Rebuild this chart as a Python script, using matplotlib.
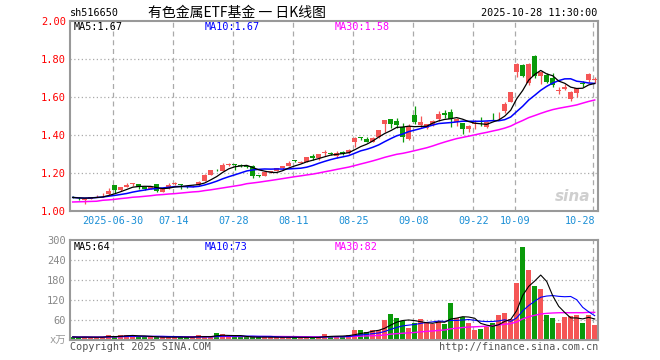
import numpy as np
import pandas as pd
import matplotlib
matplotlib.use("Agg")
import matplotlib.pyplot as plt
from matplotlib.transforms import blended_transform_factory

# ---------------- data ----------------
opens = [1.075,1.070,1.060,1.067,1.079,1.084,1.091,1.139,1.112,1.128,
         1.144,1.144,1.126,1.120,1.144,1.104,1.121,1.145,1.142,1.132,
         1.130,1.137,1.160,1.191,1.220,1.212,1.245,1.248,1.243,1.240,
         1.239,1.190,1.186,1.207,1.212,1.226,1.239,1.267,1.256,1.261,
         1.293,1.279,1.308,1.307,1.293,1.314,1.305,1.367,1.390,1.381,
         1.367,1.389,1.458,1.486,1.475,1.446,1.381,1.507,1.454,1.440,
         1.454,1.486,1.518,1.525,1.470,1.463,1.432,1.461,1.474,1.442,
         1.497,1.500,1.530,1.577,1.735,1.770,1.677,1.819,1.714,1.718,
         1.704,1.632,1.646,1.589,1.621,1.675,1.691,1.690]
closes = [1.073,1.068,1.067,1.073,1.082,1.087,1.107,1.112,1.128,1.140,
          1.147,1.126,1.117,1.126,1.109,1.118,1.139,1.148,1.137,1.129,
          1.134,1.155,1.191,1.218,1.216,1.244,1.248,1.245,1.240,1.232,
          1.188,1.187,1.209,1.210,1.226,1.237,1.256,1.264,1.259,1.286,
          1.279,1.300,1.311,1.303,1.305,1.300,1.323,1.388,1.387,1.367,
          1.384,1.428,1.481,1.461,1.454,1.393,1.451,1.468,1.468,1.458,
          1.475,1.510,1.507,1.486,1.488,1.432,1.449,1.464,1.470,1.472,
          1.494,1.503,1.565,1.626,1.774,1.712,1.775,1.714,1.732,1.682,
          1.665,1.634,1.656,1.630,1.647,1.672,1.721,1.693]
highs = [1.080,1.074,1.070,1.076,1.085,1.098,1.121,1.140,1.130,1.151,
         1.151,1.146,1.128,1.130,1.146,1.120,1.147,1.154,1.145,1.135,
         1.137,1.160,1.195,1.220,1.225,1.253,1.256,1.249,1.248,1.246,
         1.242,1.193,1.212,1.214,1.228,1.240,1.265,1.272,1.263,1.288,
         1.300,1.302,1.323,1.310,1.318,1.318,1.326,1.390,1.393,1.393,
         1.390,1.430,1.483,1.488,1.493,1.463,1.458,1.554,1.502,1.462,
         1.478,1.528,1.533,1.539,1.490,1.465,1.452,1.481,1.495,1.475,
         1.516,1.525,1.577,1.628,1.782,1.775,1.778,1.823,1.735,1.726,
         1.726,1.656,1.670,1.632,1.650,1.684,1.730,1.709]
lows = [1.068,1.062,1.037,1.064,1.076,1.077,1.086,1.095,1.108,1.126,
        1.135,1.119,1.114,1.117,1.100,1.100,1.119,1.140,1.116,1.124,
        1.127,1.133,1.158,1.190,1.210,1.210,1.240,1.218,1.232,1.226,
        1.177,1.180,1.184,1.203,1.210,1.224,1.237,1.260,1.252,1.258,
        1.272,1.268,1.290,1.298,1.282,1.297,1.302,1.340,1.375,1.363,
        1.363,1.387,1.419,1.440,1.440,1.367,1.375,1.458,1.437,1.435,
        1.450,1.475,1.489,1.446,1.451,1.405,1.419,1.432,1.449,1.440,
        1.481,1.481,1.516,1.575,1.709,1.705,1.665,1.700,1.670,1.674,
        1.653,1.618,1.639,1.582,1.600,1.656,1.682,1.674]
volumes = [10,9,10,9,9,10,16,11,15,16,
           15,10,9,9,10,9,10,9,10,9,
           10,15,11,10,22,18,12,9,10,9,
           10,9,10,9,9,9,10,9,8,9,
           8,10,18,14,12,10,16,32,32,24,
           32,30,62,80,68,57,38,52,64,52,
           49,57,49,112,66,70,52,31,35,40,
           52,75,82,64,172,280,211,162,154,76,
           66,52,70,72,75,52,75,46]
# MA30 of price for the first 29 sessions (history before the window)
ma30_head = [1.049,1.050,1.051,1.052,1.053,1.058,1.060,1.063,1.067,1.070,
             1.074,1.076,1.079,1.082,1.086,1.088,1.091,1.093,1.096,1.099,
             1.102,1.104,1.109,1.113,1.118,1.123,1.128,1.133,1.138]

date_labels = ["2025-06-30", "07-14", "07-28", "08-11", "08-25",
               "09-08", "09-22", "10-09", "10-28"]
date_index = [7, 17, 27, 37, 47, 57, 67, 74, 87]

price_ticks = [1.00, 1.20, 1.40, 1.60, 1.80, 2.00]
vol_ticks = [60, 120, 180, 240, 300]

symbol = "sh516650"
title = "有色金属ETF基金 一 日K线图"
stamp = "2025-10-28 11:30:00"
price_ma_text = ["MA5:1.67", "MA10:1.67", "MA30:1.58"]
vol_ma_text = ["MA5:64", "MA10:73", "MA30:82"]

# ---------------- derived ----------------
n = len(closes)
x = np.arange(n)
o = np.array(opens); c = np.array(closes)
h = np.array(highs); l = np.array(lows)
v = np.array(volumes, dtype=float)
cs = pd.Series(c)
ma5 = cs.rolling(5, min_periods=1).mean().values
ma10 = cs.rolling(10, min_periods=1).mean().values
ma30 = cs.rolling(30).mean().values
ma30[:len(ma30_head)] = ma30_head
vs = pd.Series(v)
vma5 = vs.rolling(5, min_periods=1).mean().values
vma10 = vs.rolling(10, min_periods=1).mean().values
vma30 = vs.rolling(30, min_periods=1).mean().values

RED = "#f55656"
GREEN = "#0a9a0a"
up = c >= o
cols = np.where(up, RED, GREEN)

# ---------------- layout ----------------
W, H = 660, 360
fig = plt.figure(figsize=(6.6, 3.6), dpi=100)
fig.patch.set_facecolor("white")
def fx(px): return px / W
def fy(py): return 1 - py / H

L, R = 70, 598
P_TOP, P_BOT = 21.3, 211.3
V_TOP, V_BOT = 240.3, 340.3
axp = fig.add_axes([fx(L), fy(P_BOT), (R - L) / W, (P_BOT - P_TOP) / H])
axv = fig.add_axes([fx(L), fy(V_BOT), (R - L) / W, (V_BOT - V_TOP) / H])

MONO = "DejaVu Sans Mono"
GRID = "#aaaaaa"
for ax in (axp, axv):
    ax.set_xlim(-0.45, n - 0.45)
    for s in ax.spines.values():
        s.set_color("#999999")
        s.set_linewidth(1.5)
    ax.tick_params(length=0)
    ax.set_xticks([])
    for di in date_index:
        ax.axvline(di - 0.25, color=GRID, lw=0.9, ls=(0, (4, 3)), zorder=0)

# price panel
axp.set_ylim(1.0, 2.0)
for t in price_ticks[1:-1]:
    axp.axhline(t, color=GRID, lw=0.9, ls=(0, (1, 2)), zorder=0)
axp.set_yticks(price_ticks)
axp.set_yticklabels([f"{t:.2f}" for t in price_ticks], color="red",
                    fontfamily=MONO, fontsize=7.5)
axp.tick_params(axis="y", pad=3)

axp.vlines(x, l, h, colors=cols, lw=0.9, zorder=2)
body = np.maximum(np.abs(c - o), 0.004)
axp.bar(x, body, bottom=np.minimum(o, c), width=0.75, color=cols,
        linewidth=0, zorder=3)
axp.plot(x, ma30, color="#ff00ff", lw=1.1, zorder=4)
axp.plot(x, ma10, color="#0000ff", lw=1.1, zorder=4)
axp.plot(x, ma5, color="black", lw=0.9, zorder=5)

# watermark
axp.text(0.985, 0.04, "sina", transform=axp.transAxes, ha="right", va="bottom",
         color="#cfcfcf", fontsize=11, fontweight="bold", fontstyle="italic",
         zorder=1)

# date labels
tr = blended_transform_factory(axp.transData, axp.transAxes)
for di, lab in zip(date_index, date_labels):
    ha = "right" if di == date_index[-1] else "center"
    xx = di + 0.1 if ha == "right" else di - 0.25
    axp.text(xx, -0.053, lab, transform=tr, ha=ha, va="center",
             color="#1b8fd6", fontfamily=MONO, fontsize=7.3)

# MA header texts
ma_cols = ["black", "#0000ff", "#ff00ff"]
ma_x = [74, 205, 335]
for txt, col, xx in zip(price_ma_text, ma_cols, ma_x):
    fig.text(fx(xx), fy(27), txt, color=col, fontfamily=MONO, fontsize=7.3,
             ha="left", va="center")
for txt, col, xx in zip(vol_ma_text, ma_cols, ma_x):
    fig.text(fx(xx), fy(246.5), txt, color=col, fontfamily=MONO, fontsize=7.3,
             ha="left", va="center")

# volume panel
axv.set_ylim(0, 300)
for t in vol_ticks[:-1]:
    axv.axhline(t, color=GRID, lw=0.9, ls=(0, (1, 2)), zorder=0)
axv.set_yticks(vol_ticks)
axv.set_yticklabels([str(t) for t in vol_ticks], color="#888888",
                    fontfamily=MONO, fontsize=7.5)
axv.tick_params(axis="y", pad=3)
axv.bar(x, v, width=0.8, color=cols, linewidth=0, zorder=2)
axv.plot(x, vma30, color="#ff00ff", lw=1.0, zorder=4)
axv.plot(x, vma10, color="#0000ff", lw=0.8, zorder=4)
axv.plot(x, vma5, color="black", lw=0.8, zorder=5)
fig.text(fx(66), fy(340.5), "x万", color="#999999",
         fontfamily=[MONO, "Noto Sans CJK SC"], fontsize=7.5,
         ha="right", va="center")

# header
fig.text(fx(70), fy(13), symbol, fontfamily=MONO, fontsize=7.3,
         ha="left", va="center", color="black")
fig.text(fx(237), fy(13), title, fontfamily=["Noto Sans CJK SC", "DejaVu Sans"],
         fontsize=10, ha="center", va="center", color="black")
fig.text(fx(597), fy(13), stamp, fontfamily=MONO, fontsize=7.3,
         ha="right", va="center", color="black")

# footer
fig.text(fx(70), fy(347), "Copyright 2025 SINA.COM", fontfamily=MONO,
         fontsize=7.3, ha="left", va="center", color="#555555")
fig.text(fx(598), fy(347), "http://finance.sina.com.cn", fontfamily=MONO,
         fontsize=7.3, ha="right", va="center", color="#555555")

fig.savefig("out.png", dpi=100, facecolor="white")
